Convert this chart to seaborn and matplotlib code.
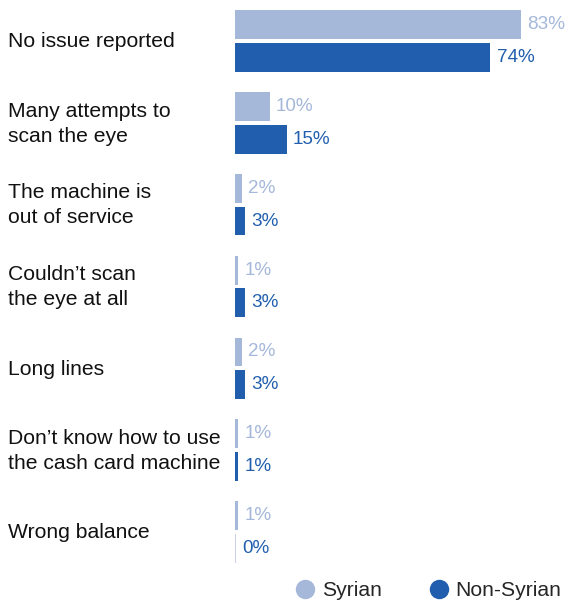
import matplotlib
matplotlib.use("Agg")
import matplotlib.pyplot as plt
from matplotlib.lines import Line2D
import matplotlib.transforms as mtransforms
import seaborn as sns
import pandas as pd

categories = [
    "No issue reported",
    "Many attempts to\nscan the eye",
    "The machine is\nout of service",
    "Couldn\u2019t scan\nthe eye at all",
    "Long lines",
    "Don\u2019t know how to use\nthe cash card machine",
    "Wrong balance",
]
syrian = [83, 10, 2, 1, 2, 1, 1]
non_syrian = [74, 15, 3, 3, 3, 1, 0]
groups = ["Syrian", "Non-Syrian"]
colors = {"Syrian": "#A5B8D9", "Non-Syrian": "#215FAE"}

df = pd.DataFrame({
    "category": categories * 2,
    "group": [groups[0]] * len(categories) + [groups[1]] * len(categories),
    "value": syrian + non_syrian,
})

sns.set_theme(style="white")
plt.rcParams["font.family"] = ["Liberation Sans", "DejaVu Sans"]

fig = plt.figure(figsize=(5.65, 6.04), dpi=100)
ax = fig.add_axes([235 / 565, 31 / 604, 325 / 565, 573 / 604])

sns.barplot(data=df, y="category", x="value", hue="group", orient="h",
            palette=colors, hue_order=groups, order=categories,
            width=0.8, gap=0.12, saturation=1, ax=ax, legend=False,
            edgecolor="none", linewidth=0)

ax.set_xlim(0, 325 / 3.45)
ax.set_ylim(6.5, -0.5)
ax.set_xlabel("")
ax.set_ylabel("")
ax.set_xticks([])
ax.set_yticks([])
for s in ax.spines.values():
    s.set_visible(False)

values = {"Syrian": syrian, "Non-Syrian": non_syrian}
for cont, g in zip(ax.containers, groups):
    for bar, v in zip(cont, values[g]):
        if v == 0:
            # faint stub so an empty slot is still visible
            bar.set_width(0.3)
            bar.set_facecolor("#C9D3E6")
    ax.bar_label(cont, labels=[f"{v}%" for v in values[g]],
                 padding=4.5, fontsize=13.6, color=colors[g])

trans = mtransforms.blended_transform_factory(fig.transFigure, ax.transData)
for i, cat in enumerate(categories):
    ax.text(8 / 565, i + 0.01, cat, transform=trans, ha="left", va="center",
            fontsize=15.2, color="#111111", linespacing=1.4)

handles = [Line2D([0], [0], marker="o", linestyle="none", markersize=14,
                  markerfacecolor=colors[g], markeredgecolor="none") for g in groups]
fig.legend(handles, groups, loc="center", bbox_to_anchor=(428 / 565, 13 / 604),
           ncol=2, frameon=False, fontsize=15.2, handletextpad=0.3,
           columnspacing=2.2, handlelength=1.0, borderaxespad=0, borderpad=0)

fig.savefig("out.png", dpi=100, facecolor="white")
